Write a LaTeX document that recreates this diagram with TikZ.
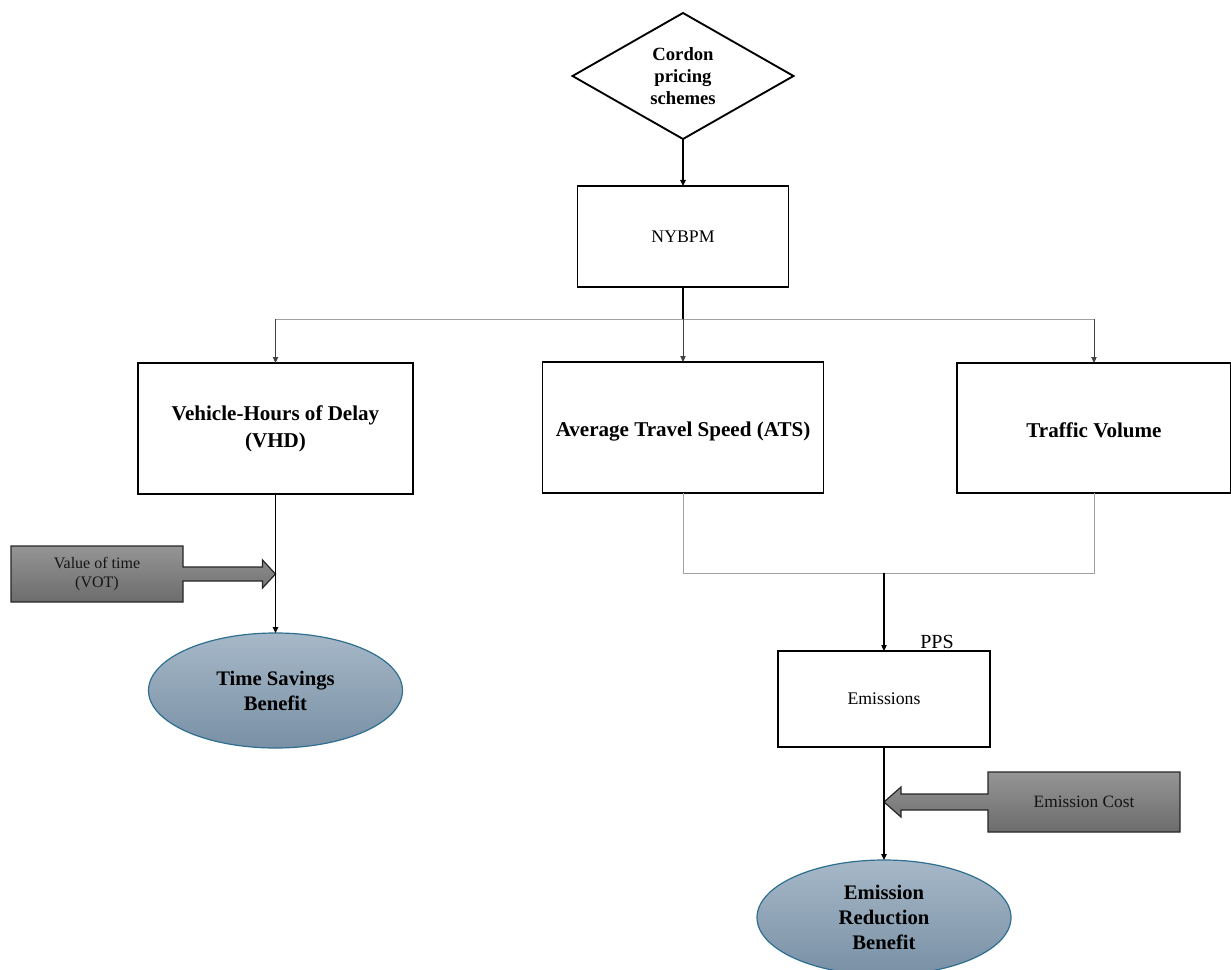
\documentclass[tikz,border=0pt]{standalone}
\usepackage{fontspec}
\setmainfont{Liberation Serif}
\usetikzlibrary{shapes.geometric,arrows.meta,calc,backgrounds}
\definecolor{gtop}{HTML}{959595}
\definecolor{gbot}{HTML}{6C6C6C}
\definecolor{etop}{HTML}{A6B8C8}
\definecolor{ebot}{HTML}{7990A5}
\definecolor{eborder}{HTML}{2E6F91}
\definecolor{thingray}{HTML}{A0A0A0}
\begin{document}
\begin{tikzpicture}[x=0.75pt,y=-0.75pt,
  rect/.style={rectangle,draw=black,line width=1.4pt,fill=white,align=center,inner sep=2pt,outer sep=0pt},
  boldtxt/.style={font=\fontsize{15.8}{20}\selectfont\bfseries},
  oneline/.style={text height=14.2pt,text depth=0pt},
  regtxt/.style={font=\fontsize{13.3}{16}\selectfont},
  ellip/.style={ellipse,draw=eborder,line width=0.9pt,top color=etop,bottom color=ebot,align=center,inner sep=0pt,outer sep=0pt,font=\fontsize{15.5}{18.75}\selectfont\bfseries},
  gbox/.style={rectangle,align=center,inner sep=0pt,outer sep=0pt,text=black!92},
  gshape/.style={draw=black!85,line width=0.9pt,top color=gtop,bottom color=gbot},
  tip/.style={-{Triangle[length=4.5pt,width=4pt]}},
  thinline/.style={draw=thingray,line width=0.75pt},
  dropline/.style={draw=black!75,line width=0.75pt,tip}
]
\useasboundingbox (0,0) rectangle (1231,970);

% nodes
\node[diamond,draw=black,line width=1.4pt,fill=white,minimum width=165.75pt,minimum height=94.5pt,inner sep=0pt,outer sep=0pt,align=center,font=\fontsize{14}{16.5}\selectfont\bfseries] (cps) at (683,76) {Cordon\\pricing\\schemes};
\node[rect,regtxt,minimum width=158.25pt,minimum height=75.75pt] (nyb) at (683,236.5) {NYBPM};
\node[rect,boldtxt,text depth=3pt,minimum width=206.25pt,minimum height=98.25pt] (vhd) at (275.5,428.5) {Vehicle-Hours of Delay\\(VHD)};
\node[rect,boldtxt,oneline,minimum width=210.75pt,minimum height=98.25pt] (ats) at (683,427.5) {Average Travel Speed (ATS)};
\node[rect,boldtxt,oneline,minimum width=205.5pt,minimum height=97.5pt] (tv) at (1094,428) {Traffic Volume};
\node[rect,regtxt,minimum width=159pt,minimum height=72pt] (emi) at (884,699) {Emissions};
\node[ellip,minimum width=190.5pt,minimum height=86.25pt] (tsb) at (275.5,690.5) {Time Savings\\Benefit};
\node[ellip,minimum width=190.5pt,minimum height=86.25pt] (erb) at (884,917.5) {Emission\\Reduction\\Benefit};
\node[gbox,font=\fontsize{12}{14.25}\selectfont,minimum width=129pt,minimum height=42pt] (vot) at (97,574) {Value of time\\(VOT)};
\node[gbox,font=\fontsize{13}{16}\selectfont,minimum width=144pt,minimum height=45pt] (ec) at (1084,802) {Emission Cost};
\node[font=\fontsize{15}{18}\selectfont,inner sep=0pt] (pps) at (937,642) {PPS};

% block arrows (behind text)
\begin{scope}[on background layer]
\coordinate (vottip) at (vhd.south |- vot.east);
\draw[gshape] (vot.north west) -- (vot.north east) -- ($(vot.east)+(0,-7)$)
  -- ($(vottip)+(-13,-7)$) -- ($(vottip)+(-13,-14)$) -- (vottip)
  -- ($(vottip)+(-13,14)$) -- ($(vottip)+(-13,7)$) -- ($(vot.east)+(0,7)$)
  -- (vot.south east) -- (vot.south west) -- cycle;
\coordinate (ectip) at (emi.south |- ec.west);
\draw[gshape] (ec.north east) -- (ec.north west) -- ($(ec.west)+(0,-8)$)
  -- ($(ectip)+(17,-8)$) -- ($(ectip)+(17,-15)$) -- (ectip)
  -- ($(ectip)+(17,15)$) -- ($(ectip)+(17,8)$) -- ($(ec.west)+(0,8)$)
  -- (ec.south west) -- (ec.south east) -- cycle;
\end{scope}

% connectors
\draw[tip,line width=1.3pt] (cps.south) -- (nyb.north);
\draw[line width=1.3pt] (nyb.south) -- ++(0,32) coordinate (split);
\draw[thinline] (split -| vhd.north) -- (split -| tv.north);
\draw[dropline] (split -| vhd.north) -- (vhd.north);
\draw[dropline] (split) -- (ats.north);
\draw[dropline] (split -| tv.north) -- (tv.north);
\draw[thinline] (ats.south) -- ++(0,80) coordinate (join) -| (tv.south);
\draw[tip,line width=0.9pt] (join -| emi.north) -- (emi.north);
\draw[tip,line width=1.1pt] (vhd.south) -- (tsb.north);
\draw[tip,line width=1.1pt] (emi.south) -- (erb.north);
\end{tikzpicture}
\end{document}
